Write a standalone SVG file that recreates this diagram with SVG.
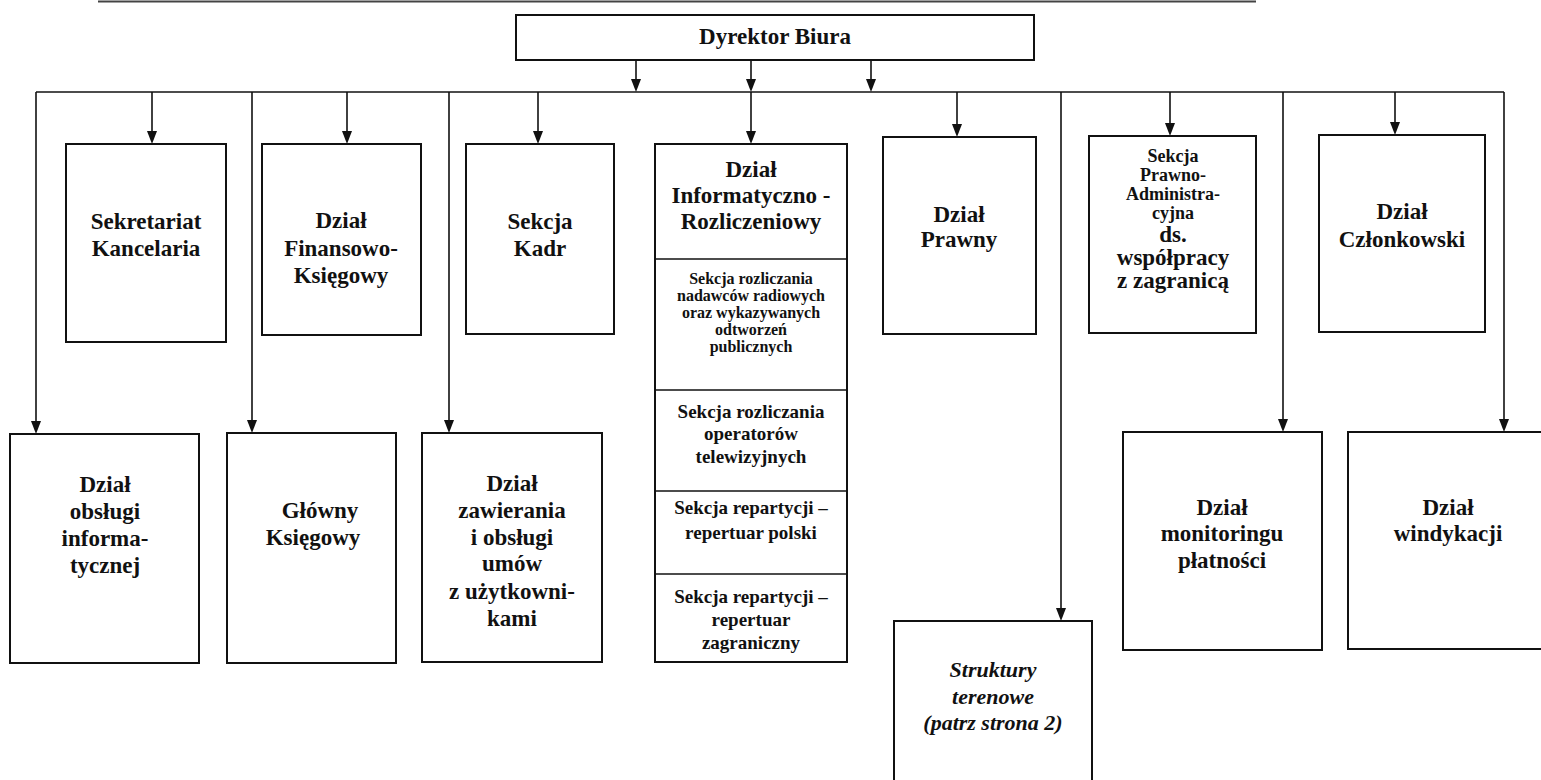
<svg xmlns="http://www.w3.org/2000/svg" width="1541" height="780" viewBox="0 0 1541 780">
<style>
.box{fill:#fff;stroke:#111;stroke-width:2}
.ln{fill:none;stroke:#111;stroke-width:1.6}
.hd{fill:#111}
.t{font-family:"Liberation Serif","Times New Roman",serif;font-weight:bold;font-size:23px;fill:#111;text-anchor:middle}
.s{font-size:19px}
.xs{font-size:16px}
.m{font-size:18px}
.it{font-style:italic;font-size:22px}
.div{stroke:#111;stroke-width:1.6}
</style>
<rect width="1541" height="780" fill="#fff"/>
<line x1="98" y1="1.5" x2="1256" y2="1.5" stroke="#444" stroke-width="2"/>

<g id="connectors">
<path class="ln" d="M36,92 H1504"/>
<path class="ln" d="M636,60 V79"/><path class="hd" d="M631,79 L641,79 L636,92 Z"/>
<path class="ln" d="M751,60 V79"/><path class="hd" d="M746,79 L756,79 L751,92 Z"/>
<path class="ln" d="M871,60 V79"/><path class="hd" d="M866,79 L876,79 L871,92 Z"/>
<path class="ln" d="M152,92 V131"/><path class="hd" d="M147,131 L157,131 L152,144 Z"/>
<path class="ln" d="M347,92 V131"/><path class="hd" d="M342,131 L352,131 L347,144 Z"/>
<path class="ln" d="M538,92 V131"/><path class="hd" d="M533,131 L543,131 L538,144 Z"/>
<path class="ln" d="M751,92 V131"/><path class="hd" d="M746,131 L756,131 L751,144 Z"/>
<path class="ln" d="M957,92 V124"/><path class="hd" d="M952,124 L962,124 L957,137 Z"/>
<path class="ln" d="M1170,92 V123"/><path class="hd" d="M1165,123 L1175,123 L1170,136 Z"/>
<path class="ln" d="M1395,92 V122"/><path class="hd" d="M1390,122 L1400,122 L1395,135 Z"/>
<path class="ln" d="M36,92 V421"/><path class="hd" d="M31,421 L41,421 L36,434 Z"/>
<path class="ln" d="M252,92 V420"/><path class="hd" d="M247,420 L257,420 L252,433 Z"/>
<path class="ln" d="M449,92 V420"/><path class="hd" d="M444,420 L454,420 L449,433 Z"/>
<path class="ln" d="M1061,92 V608"/><path class="hd" d="M1056,608 L1066,608 L1061,621 Z"/>
<path class="ln" d="M1283,92 V419"/><path class="hd" d="M1278,419 L1288,419 L1283,432 Z"/>
<path class="ln" d="M1504,92 V419"/><path class="hd" d="M1499,419 L1509,419 L1504,432 Z"/>
</g>

<g id="dyrektor">
<rect class="box" x="516" y="15" width="518" height="45"/>
<text class="t" x="775" y="44">Dyrektor Biura</text>
</g>

<g id="sekretariat">
<rect class="box" x="66" y="144" width="160" height="198"/>
<text class="t"><tspan x="146" y="229">Sekretariat</tspan><tspan x="146" y="256">Kancelaria</tspan></text>
</g>

<g id="finansowo">
<rect class="box" x="262" y="144" width="159" height="191"/>
<text class="t"><tspan x="341" y="228">Dział</tspan><tspan x="341" y="256">Finansowo-</tspan><tspan x="341" y="283">Księgowy</tspan></text>
</g>

<g id="kadr">
<rect class="box" x="466" y="144" width="148" height="190"/>
<text class="t"><tspan x="540" y="229">Sekcja</tspan><tspan x="540" y="256">Kadr</tspan></text>
</g>

<g id="informatyczno">
<rect class="box" x="655" y="144" width="192" height="518"/>
<line class="div" x1="655" y1="259" x2="847" y2="259"/>
<line class="div" x1="655" y1="390" x2="847" y2="390"/>
<line class="div" x1="655" y1="491" x2="847" y2="491"/>
<line class="div" x1="655" y1="574" x2="847" y2="574"/>
<text class="t"><tspan x="751" y="177">Dział</tspan><tspan x="751" y="203">Informatyczno -</tspan><tspan x="751" y="229">Rozliczeniowy</tspan></text>
<text class="t xs"><tspan x="751" y="284">Sekcja rozliczania</tspan><tspan x="751" y="301">nadawców radiowych</tspan><tspan x="751" y="318">oraz wykazywanych</tspan><tspan x="751" y="335">odtworzeń</tspan><tspan x="751" y="352">publicznych</tspan></text>
<text class="t s"><tspan x="751" y="418">Sekcja rozliczania</tspan><tspan x="751" y="440">operatorów</tspan><tspan x="751" y="463">telewizyjnych</tspan></text>
<text class="t s"><tspan x="751" y="514">Sekcja repartycji –</tspan><tspan x="751" y="539">repertuar polski</tspan></text>
<text class="t s"><tspan x="751" y="603">Sekcja repartycji –</tspan><tspan x="751" y="626">repertuar</tspan><tspan x="751" y="649">zagraniczny</tspan></text>
</g>

<g id="prawny">
<rect class="box" x="883" y="137" width="153" height="197"/>
<text class="t"><tspan x="959" y="222">Dział</tspan><tspan x="959" y="247">Prawny</tspan></text>
</g>

<g id="sekcja-prawno">
<rect class="box" x="1089" y="136" width="167" height="197"/>
<text class="t m"><tspan x="1173" y="162">Sekcja</tspan><tspan x="1173" y="181">Prawno-</tspan><tspan x="1173" y="200">Administra-</tspan><tspan x="1173" y="219">cyjna</tspan></text>
<text class="t"><tspan x="1173" y="242">ds.</tspan><tspan x="1173" y="265">współpracy</tspan><tspan x="1173" y="288">z zagranicą</tspan></text>
</g>

<g id="czlonkowski">
<rect class="box" x="1319" y="135" width="166" height="197"/>
<text class="t"><tspan x="1402" y="219">Dział</tspan><tspan x="1402" y="247">Członkowski</tspan></text>
</g>

<g id="obslugi">
<rect class="box" x="10" y="434" width="189" height="229"/>
<text class="t"><tspan x="105" y="492">Dział</tspan><tspan x="105" y="519">obsługi</tspan><tspan x="105" y="546">informa-</tspan><tspan x="105" y="573">tycznej</tspan></text>
</g>

<g id="glowny">
<rect class="box" x="227" y="433" width="169" height="230"/>
<text class="t"><tspan x="320" y="518">Główny</tspan><tspan x="313" y="545">Księgowy</tspan></text>
</g>

<g id="zawierania">
<rect class="box" x="422" y="433" width="180" height="229"/>
<text class="t"><tspan x="512" y="491">Dział</tspan><tspan x="512" y="518">zawierania</tspan><tspan x="512" y="545">i obsługi</tspan><tspan x="512" y="571">umów</tspan><tspan x="512" y="599">z użytkowni-</tspan><tspan x="512" y="626">kami</tspan></text>
</g>

<g id="struktury">
<rect class="box" x="894" y="621" width="198" height="170"/>
<text class="t it"><tspan x="993" y="677">Struktury</tspan><tspan x="993" y="704">terenowe</tspan><tspan x="993" y="730">(patrz strona 2)</tspan></text>
</g>

<g id="monitoring">
<rect class="box" x="1123" y="432" width="199" height="218"/>
<text class="t"><tspan x="1222" y="515">Dział</tspan><tspan x="1222" y="541">monitoringu</tspan><tspan x="1222" y="568">płatności</tspan></text>
</g>

<g id="windykacja">
<rect class="box" x="1348" y="432" width="210" height="217"/>
<text class="t"><tspan x="1448" y="515">Dział</tspan><tspan x="1448" y="541">windykacji</tspan></text>
</g>
</svg>
